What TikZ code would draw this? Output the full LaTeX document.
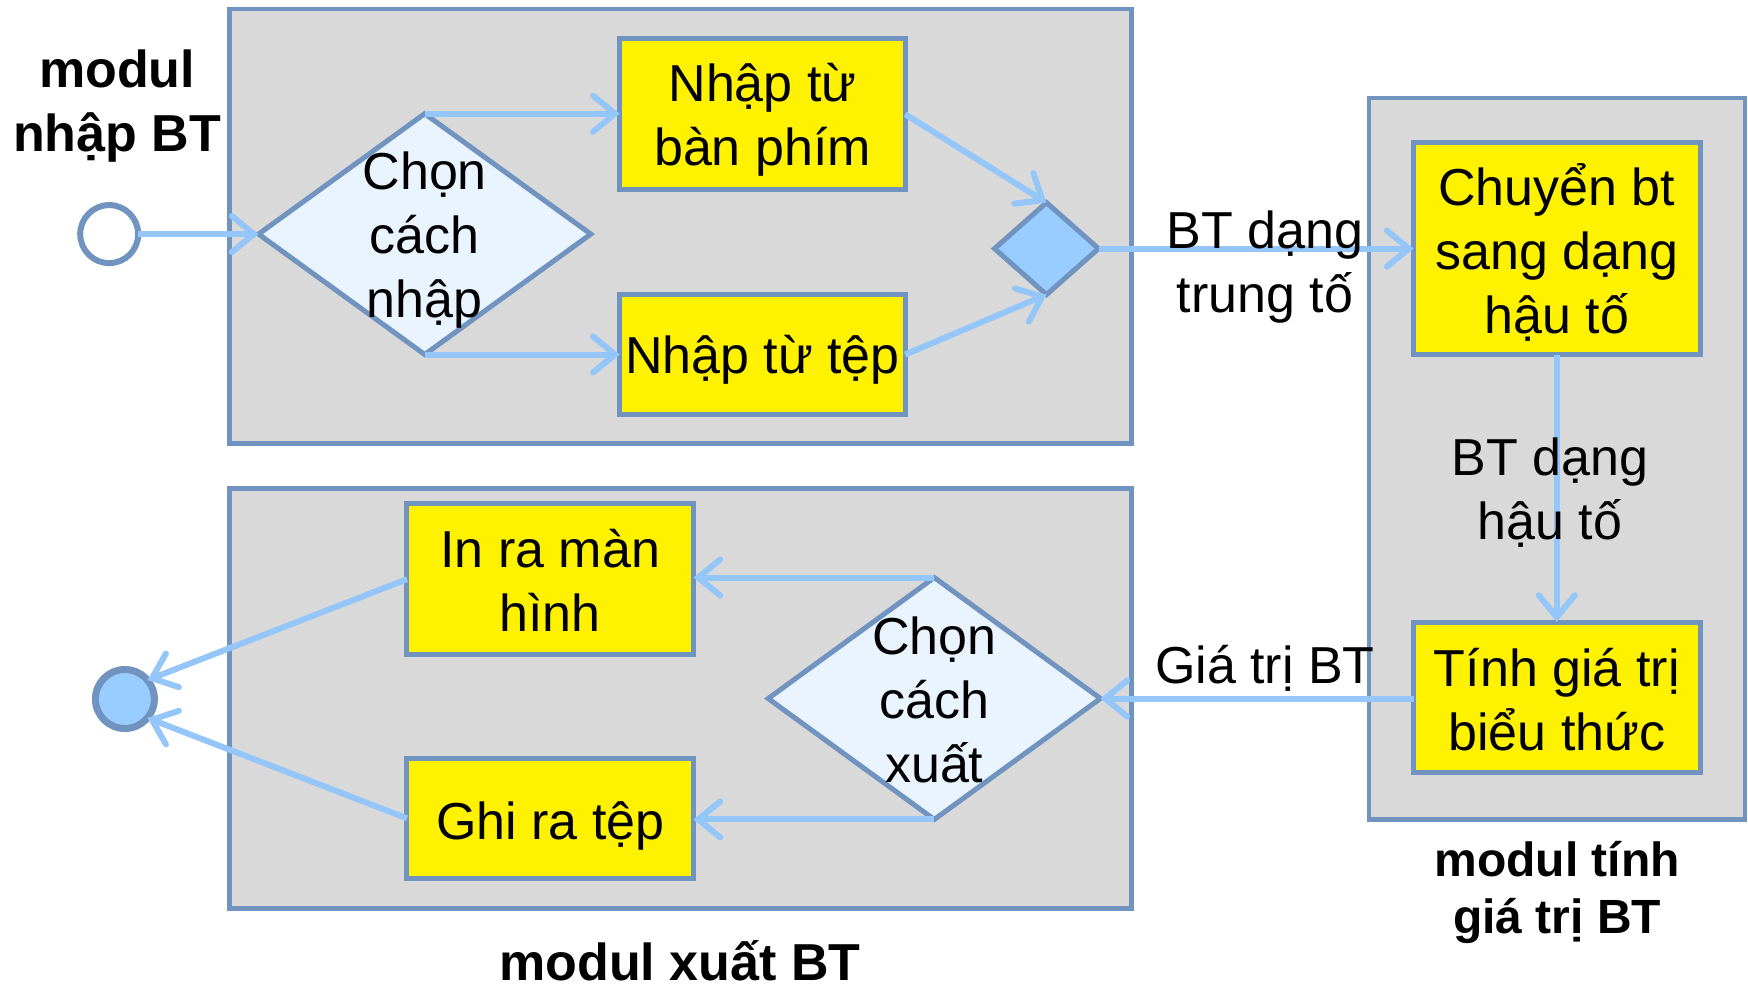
\documentclass[tikz,border=0pt]{standalone}
\usepackage{fontspec}
\setmainfont{Liberation Sans}
\usetikzlibrary{arrows.meta,shapes.geometric}
\definecolor{bord}{HTML}{7094BF}
\definecolor{boxgray}{HTML}{D9D9D9}
\definecolor{dfill}{HTML}{EAF4FE}
\definecolor{mfill}{HTML}{99CCFF}
\definecolor{arr}{HTML}{94C6FA}
\begin{document}
\begin{tikzpicture}[x=1pt,y=-1pt,
  module/.style={draw=bord,fill=boxgray,line width=4.5pt,inner sep=0pt,outer sep=0pt},
  actbox/.style={draw=bord,fill=yellow,line width=5pt,inner sep=0pt,outer sep=0pt},
  choice/.style={diamond,draw=bord,fill=dfill,line width=5pt,inner sep=0pt,outer sep=0pt},
  lbl/.style={align=center,font=\fontsize{52}{64}\selectfont,inner sep=0pt},
  title/.style={align=center,font=\fontsize{52}{64}\selectfont\bfseries,inner sep=0pt},
  flow/.style={draw=arr,line width=6pt,-{Straight Barb[length=22pt,width=36pt,line cap=round]}}
]
\useasboundingbox (0,0) rectangle (1748,990);

% modules
\node[module,minimum width=901.9pt,minimum height=434.8pt] (mtop) at (680.5,226.3) {};
\node[module,minimum width=901.9pt,minimum height=420.3pt] (mbot) at (680.5,698.5) {};
\node[module,minimum width=375.7pt,minimum height=721.3pt] (mright) at (1556.9,458.8) {};

% action boxes
\node[actbox,minimum width=285.4pt,minimum height=150.5pt] (y1) at (762.5,114.25) {};
\node[actbox,minimum width=285.4pt,minimum height=120.4pt] (y2) at (762.5,354.5) {};
\node[actbox,minimum width=286.4pt,minimum height=211.8pt] (chuyen) at (1556.8,248.6) {};
\node[actbox,minimum width=286.4pt,minimum height=150.6pt] (tinh) at (1556.8,697.3) {};
\node[actbox,minimum width=286.5pt,minimum height=150.5pt] (inra) at (550.2,579.2) {};
\node[actbox,minimum width=286.5pt,minimum height=120.5pt] (ghira) at (550.2,818.3) {};

% decisions
\node[choice,minimum width=332.2pt,minimum height=240.8pt] (d1) at (424.7,234.1) {};
\node[choice,minimum width=332.2pt,minimum height=241.9pt] (d2) at (934.3,698.5) {};
\node[choice,fill=mfill,minimum width=104pt,minimum height=92pt] (merge) at (1046.5,248.6) {};

% start / end
\node[circle,draw=bord,fill=white,line width=6pt,minimum size=58pt,inner sep=0pt,outer sep=0pt] (startc) at (109.2,234.1) {};
\node[circle,draw=bord,fill=mfill,line width=7pt,minimum size=59pt,inner sep=0pt,outer sep=0pt] (endc) at (124.9,699) {};

% flows
\draw[flow] (startc.east) -- (d1.west);
\draw[flow] (d1.north) -- (d1.north -| y1.west);
\draw[flow] (d1.south) -- (d1.south -| y2.west);
\draw[flow] (y1.east) -- (merge.north);
\draw[flow] (y2.east) -- (merge.south);
\draw[flow] (merge.east) -- (merge.east -| chuyen.west);
\draw[flow] (chuyen.south) -- (tinh.north);
\draw[flow] (tinh.west |- d2.east) -- (d2.east);
\draw[flow] (d2.north) -- (d2.north -| inra.east);
\draw[flow] (d2.south) -- (d2.south -| ghira.east);
\draw[flow] (inra.west) -- (endc.40);
\draw[flow] (ghira.west) -- (endc.-40);

% box texts
\node[lbl] (y1t) at (762.5,119.8) {Nhập từ\\bàn phím};
\node[lbl] (y2t) at (762.5,360) {Nhập từ tệp};
\node[lbl] (chuyent) at (1556.8,252) {Chuyển bt\\sang dạng\\hậu tố};
\node[lbl] (tinht) at (1556.8,699.5) {Tính giá trị\\biểu thức};
\node[lbl] (inrat) at (550.2,580) {In ra màn\\hình};
\node[lbl] (ghirat) at (550.2,826) {Ghi ra tệp};

% other texts
\node[lbl] (t1) at (424.7,240.5) {Chọn\\cách\\nhập};
\node[lbl] (t2) at (934.3,700) {Chọn\\cách\\xuất};
\node[lbl] (l1) at (1265,267.5) {BT dạng\\trung tố};
\node[lbl] (l2) at (1550,492.5) {BT dạng\\hậu tố};
\node[lbl] (l3) at (1265,668.5) {Giá trị BT};
\node[title] (mnhap) at (117,106.5) {modul\\nhập BT};
\node[title,font=\fontsize{48}{57}\selectfont\bfseries] (mtinh) at (1557,892) {modul tính\\giá trị BT};
\node[title] (mxuat) at (680,961) {modul xuất BT};
\end{tikzpicture}
\end{document}
